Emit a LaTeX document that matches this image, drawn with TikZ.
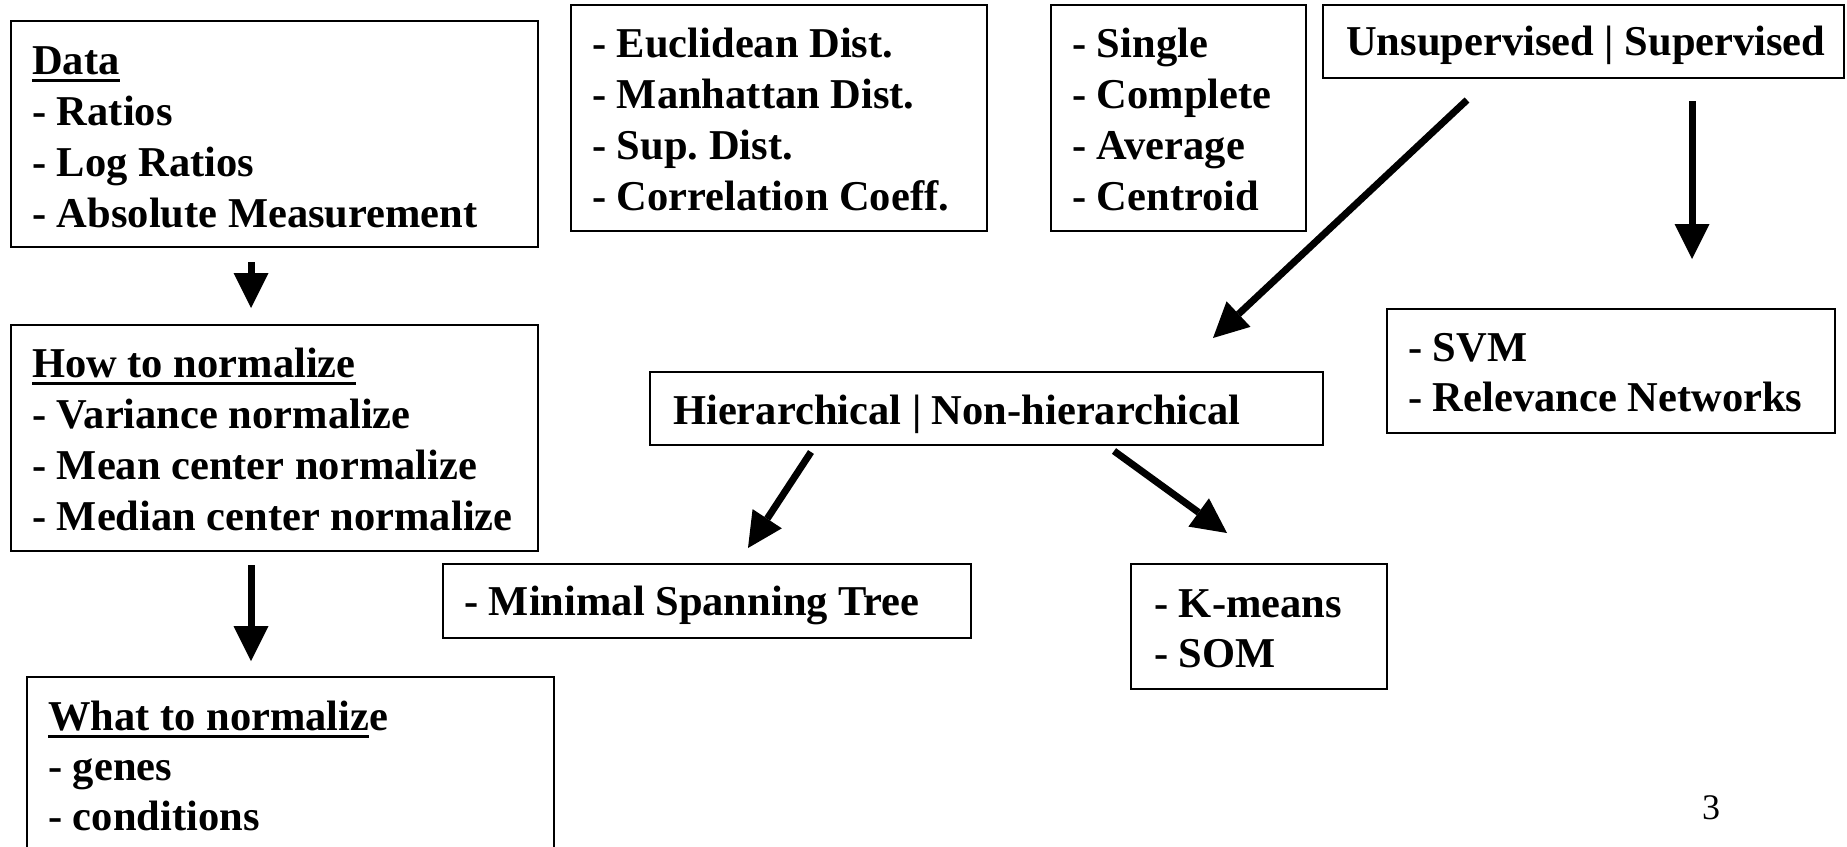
\documentclass[tikz,border=0pt]{standalone}
\usepackage{fontspec}
\setmainfont{Liberation Serif}
\usetikzlibrary{arrows.meta}
\frenchspacing
\newcommand\ulx[1]{\setbox0\hbox{#1}\rlap{\rule[-8pt]{\wd0}{3pt}}\box0}
\tikzset{
  boxnode/.style={draw=black, line width=2pt, inner sep=0pt, outer sep=0pt, anchor=north west},
  txtnode/.style={inner sep=0pt, anchor=base west, font=\bfseries\fontsize{42.5}{51}\selectfont},
  bigarrow/.style={line width=7pt, -{Triangle[length=35pt,width=35pt,line width=0pt]}}
}
\begin{document}
\begin{tikzpicture}[x=1pt,y=-1pt]
\useasboundingbox (0,0) rectangle (1847,846);
\fill[white] (0,0) rectangle (1847,846);
\clip (0,0) rectangle (1847,846);

% boxes
\node[boxnode, minimum width=527pt, minimum height=226pt] (dataBox) at (11,21) {};
\node[boxnode, minimum width=416pt, minimum height=226pt] (distBox) at (571,5) {};
\node[boxnode, minimum width=255pt, minimum height=226pt] (linkBox) at (1051,5) {};
\node[boxnode, minimum width=521pt, minimum height=73pt] (unsupBox) at (1323,5) {};
\node[boxnode, minimum width=448pt, minimum height=124pt] (svmBox) at (1387,309) {};
\node[boxnode, minimum width=527pt, minimum height=226pt] (howBox) at (11,325) {};
\node[boxnode, minimum width=527pt, minimum height=200pt] (whatBox) at (27,677) {};
\node[boxnode, minimum width=673pt, minimum height=73pt] (hierBox) at (650,372) {};
\node[boxnode, minimum width=528pt, minimum height=74pt] (mstBox) at (443,564) {};
\node[boxnode, minimum width=256pt, minimum height=125pt] (kmBox) at (1131,564) {};

% texts
\node[txtnode] (dataTxt) at (32,74) {\begin{tabular}[t]{@{}l@{}}\ulx{Data}\\- Ratios\\- Log Ratios\\- Absolute Measurement\end{tabular}};
\node[txtnode] (distTxt) at (592,57) {\begin{tabular}[t]{@{}l@{}}- Euclidean Dist.\\- Manhattan Dist.\\- Sup. Dist.\\- Correlation Coeff.\end{tabular}};
\node[txtnode] (linkTxt) at (1072,57) {\begin{tabular}[t]{@{}l@{}}- Single\\- Complete\\- Average\\- Centroid\end{tabular}};
\node[txtnode] (unsupTxt) at (1346,55) {Unsupervised | Supervised};
\node[txtnode, font=\bfseries\fontsize{42.5}{50}\selectfont] (svmTxt) at (1408,361) {\begin{tabular}[t]{@{}l@{}}- SVM\\- Relevance Networks\end{tabular}};
\node[txtnode] (howTxt) at (32,377) {\begin{tabular}[t]{@{}l@{}}\ulx{How to normalize}\\- Variance normalize\\- Mean center normalize\\- Median center normalize\end{tabular}};
\node[txtnode, font=\bfseries\fontsize{42.5}{50}\selectfont] (whatTxt) at (48,730) {\begin{tabular}[t]{@{}l@{}}\ulx{What to normaliz}e\\- genes\\- conditions\end{tabular}};
\node[txtnode] (hierTxt) at (673,424) {Hierarchical | Non-hierarchical};
\node[txtnode] (mstTxt) at (464,615) {- Minimal Spanning Tree};
\node[txtnode, font=\bfseries\fontsize{42.5}{50}\selectfont] (kmTxt) at (1154,617) {\begin{tabular}[t]{@{}l@{}}- K-means\\- SOM\end{tabular}};
\node[inner sep=0pt, anchor=base west, font=\fontsize{36}{43}\selectfont] (pageNum) at (1702,819) {3};

% arrow end points
\coordinate (a1s) at (251,262); \coordinate (a1e) at (251,308);
\coordinate (a2s) at (251,565); \coordinate (a2e) at (251,661);
\coordinate (a3s) at (1467,100); \coordinate (a3e) at (1213,338);
\coordinate (a4s) at (1692,101); \coordinate (a4e) at (1692,259);
\coordinate (a5s) at (811,452); \coordinate (a5e) at (748,548);
\coordinate (a6s) at (1114,451); \coordinate (a6e) at (1227,533);

\draw[bigarrow] (a1s) -- (a1e);
\draw[bigarrow] (a2s) -- (a2e);
\draw[bigarrow] (a3s) -- (a3e);
\draw[bigarrow] (a4s) -- (a4e);
\draw[bigarrow] (a5s) -- (a5e);
\draw[bigarrow] (a6s) -- (a6e);
\end{tikzpicture}
\end{document}
